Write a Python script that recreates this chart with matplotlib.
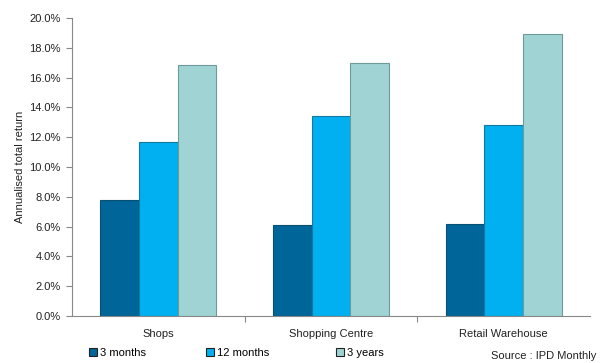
import matplotlib
matplotlib.use("Agg")
import matplotlib.pyplot as plt
import numpy as np
from matplotlib.patches import Patch

categories = ["Shops", "Shopping Centre", "Retail Warehouse"]
series_names = ["3 months", "12 months", "3 years"]
months3 = [7.8, 6.1, 6.2]
months12 = [11.7, 13.4, 12.85]
years3 = [16.85, 17.0, 18.9]
yticks = [0, 2, 4, 6, 8, 10, 12, 14, 16, 18, 20]

colors = ["#006699", "#00B0F0", "#A0D4D4"]
edges = ["#0A4F70", "#1478A0", "#6E9A9A"]

plt.rcParams['font.family'] = ['Liberation Sans', 'DejaVu Sans']
fig = plt.figure(figsize=(6.02, 3.63), dpi=100)
ax = fig.add_axes([72/602, 47/363, (590-72)/602, (316-18)/363])

x = np.arange(len(categories))
w = 0.224
for i, vals in enumerate([months3, months12, years3]):
    ax.bar(x + (i - 1) * w, vals, width=w, color=colors[i], edgecolor=edges[i], linewidth=0.8)

ax.set_xlim(-0.5, 2.5)
ax.set_ylim(0, 20)
ax.set_yticks(yticks)
ax.set_yticklabels([f"{v:.1f}%" for v in yticks], fontsize=8, color="#222222")
ax.set_xticks([0.5, 1.5])
ax.set_xticklabels([])
ax.tick_params(axis='x', length=4, color="#888888")
ax.tick_params(axis='y', length=4, color="#888888", pad=4)
for i, c in enumerate(categories):
    ax.text(i, -1.2, c, ha='center', va='center', fontsize=8, color="#222222")
for s in ['top', 'right']:
    ax.spines[s].set_visible(False)
for s in ['left', 'bottom']:
    ax.spines[s].set_color("#888888")
    ax.spines[s].set_linewidth(0.8)
ax.set_ylabel("Annualised total return", fontsize=8, color="#222222", labelpad=3)

handles = [Patch(facecolor=colors[i], edgecolor="#222222", linewidth=0.8) for i in range(3)]
xs = [96, 213, 343]
for i, name in enumerate(series_names):
    fig.legend([handles[i]], [name], loc='center left', bbox_to_anchor=(xs[i]/602 - 0.012, 1 - 353/363),
               frameon=False, fontsize=8, handlelength=0.7, handleheight=0.7, handletextpad=0.3,
               borderpad=0, borderaxespad=0)
fig.text(596/602, 1 - 356/363, "Source : IPD Monthly", ha='right', va='center', fontsize=8, color="#222222")

fig.savefig("out.png", dpi=100)
